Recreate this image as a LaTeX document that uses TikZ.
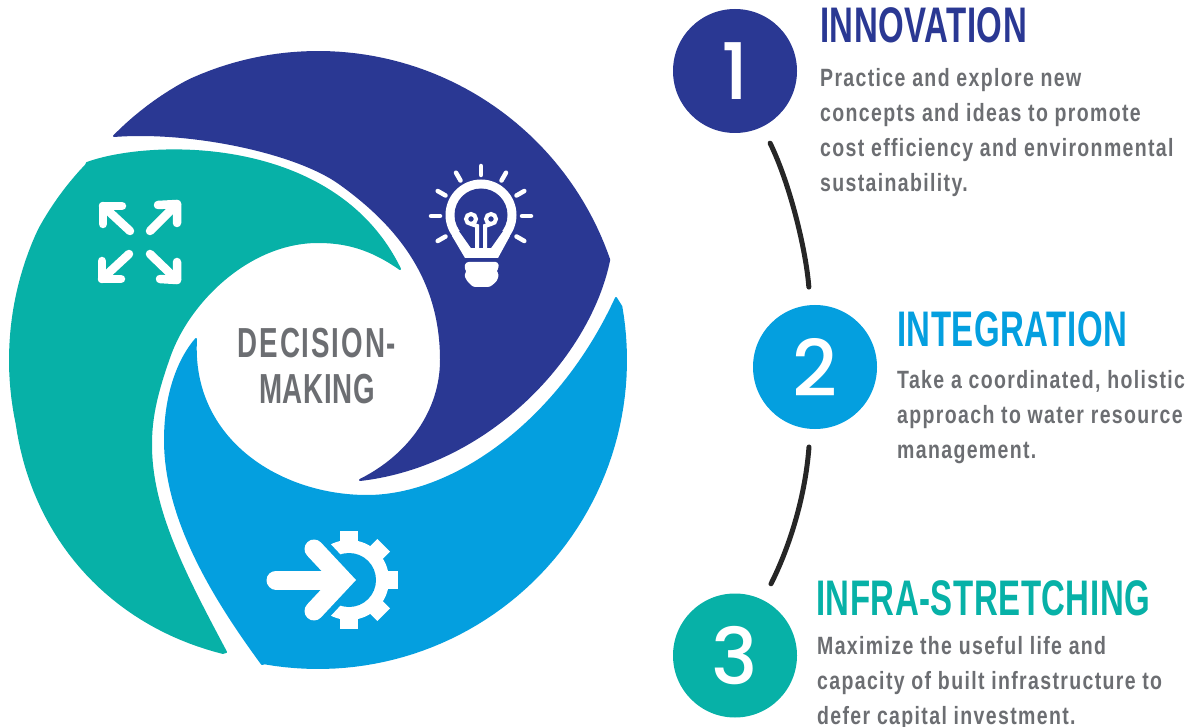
\documentclass[tikz,border=0pt]{standalone}
\usepackage{fontspec}
\setmainfont{Liberation Sans}
\newfontfamily\titlefont[FakeStretch=0.66,LetterSpace=1]{Liberation Sans Bold}
\newfontfamily\bodyfont[FakeStretch=0.78,LetterSpace=5.4]{Liberation Sans Bold}
\newfontfamily\numfont{Poppins Medium}
\definecolor{navy}{HTML}{2A3893}
\definecolor{tealc}{HTML}{07B1A7}
\definecolor{bluec}{HTML}{049FDF}
\definecolor{greyt}{HTML}{6C6E72}
\tikzset{
 seg/.style={line width=2pt,line join=round},
 numcircle/.style={circle,minimum size=124pt,inner sep=0pt,text=white,font=\numfont\fontsize{78}{78}\selectfont},
 linkline/.style={line width=5pt,line cap=round,color=black!85,shorten <=18pt,shorten >=18pt},
 titletext/.style={anchor=base west,inner sep=0pt,font=\titlefont\fontsize{50}{50}\selectfont},
 bodytext/.style={anchor=base west,inner sep=0pt,text=greyt,align=left,font=\bodyfont\fontsize{25}{35}\selectfont},
 centertext/.style={inner sep=0pt,text=greyt,anchor=base,font=\titlefont\fontsize{42}{42}\selectfont},
 arrowicon/.style={white,line width=8.5pt,line cap=round,line join=round},
 ray/.style={white,line width=4.5pt,line cap=round},
}
\begin{document}
\begin{tikzpicture}[x=1pt,y=-1pt]
\useasboundingbox (0,0) rectangle (1197,727);
% navy blade
\fill[navy,draw=navy,seg] plot[domain=132:19,samples=70] ({318+(308-5*max(0,(\x-115)/17))*cos(\x)},{360-(308-5*max(0,(\x-115)/17))*sin(\x)})
 .. controls (590,355) and (490,465) .. (360,480)
 .. controls (410,455) and (441,410) .. (441,360)
 .. controls (441,285) and (405,230) .. (339,183)
 .. controls (295,152) and (190,130) .. (114,136) -- cycle;
% teal blade
\fill[tealc,draw=tealc,seg] (87,163) .. controls (150,140) and (335,135) .. (400,269)
 .. controls (370,248) and (345,242) .. (318,242)
 .. controls (250,242) and (190,300) .. (170,355)
 .. controls (155,397) and (151,420) .. (151,445)
 .. controls (151,510) and (185,575) .. (226,652)
 -- plot[domain=252:140,samples=70] ({318+(308+7*max(0,cos(3*(\x-222)))*(\x>192)-5*max(0,(155-\x)/15))*cos(\x)},{360-(308+7*max(0,cos(3*(\x-222)))*(\x>192)-5*max(0,(155-\x)/15))*sin(\x)}) -- cycle;
% blue blade
\fill[bluec,draw=bluec,seg] (616,298) -- plot[domain=10:-100,samples=60] ({318+308*cos(\x)},{360-308*sin(\x)})
 -- (262,664) .. controls (215,600) and (165,520) .. (165,440)
 .. controls (165,395) and (178,360) .. (196,339)
 .. controls (190,440) and (280,496) .. (367,496)
 .. controls (455,496) and (560,420) .. (616,298) -- cycle;
% centre text
\node[centertext] (dm1) at (317,357) {\addfontfeature{LetterSpace=4.5}DECISION-};
\node[centertext] (dm2) at (317,403) {\addfontfeature{LetterSpace=1.5}MAKING};
% expand icon
\draw[arrowicon] (103,206)--(130,231);\draw[arrowicon] (122,206)--(103,206)--(103,224);
\draw[arrowicon] (177,204)--(150,231);\draw[arrowicon] (158,205)--(177,204)--(177,223);
\draw[arrowicon] (102,279)--(129,254);\draw[arrowicon] (102,261)--(102,279)--(121,279);
\draw[arrowicon] (177,280)--(150,254);\draw[arrowicon] (177,262)--(177,280)--(160,279);
% bulb icon
\foreach \a in {-30,0,30,60,90,120,150,180,210}
 \draw[ray] ({481+41*cos(\a)},{216-41*sin(\a)}) -- ({481+50*cos(\a)},{216-50*sin(\a)});
\fill[white] (481,215) circle[radius=35.5pt];
\fill[white] (452,236)--(465,258)--(498,258)--(510,236)--cycle;
\fill[navy] (481,215) circle[radius=26.5pt];
\fill[navy] (459,231)--(471,248)--(491,248)--(503,231)--cycle;
\draw[white,line width=4pt] (477,250)--(477,226)--(471,224) (485,250)--(485,226)--(491,224);
\draw[white,line width=4pt] (471,219) circle[radius=5pt] (491,219) circle[radius=5pt];
\fill[white,rounded corners=2.5pt] (466,262)--(498,262)--(499,268)--(496,271)--(499,274)--(497,281)--(490,287)--(473,287)--(467,281)--(464,275)--(467,271)--(464,268)--cycle;
% gear and arrow icon
\foreach \a in {0,45,...,315}
 \fill[white,rotate around={\a:(349,580)}] (340,531) rectangle (358,545);
\fill[white] (349,580) circle[radius=40pt];
\fill[bluec] (349,580) circle[radius=27pt];
\fill[bluec] (305,516.6)--(354.3,569.5)--(365,580)--(354.3,590.5)--(305,643.4)--(270,640)--(270,520)--cycle;
\draw[white,line width=19pt,line cap=round] (276,580)--(335,580);
\draw[white,line width=19pt,line cap=round,miter limit=4] (314,549)--(343,580)--(314,611);
% numbered circles
\node[numcircle,fill=navy] (n1) at (735,71) {1};
\node[numcircle,fill=bluec] (n2) at (815,367) {2};
\node[numcircle,fill=tealc] (n3) at (735,655.5) {3};
\draw[linkline] (n1) .. controls (790,184) and (806,250) .. (n2);
\draw[linkline] (n2) .. controls (805,500) and (788,550) .. (n3);
% text
\node[titletext,text=navy] (t1) at (820,43) {INNOVATION};
\node[bodytext] (b1) at (820,192) {Practice and explore new\\concepts and ideas to promote\\cost efficiency and environmental\\sustainability.};
\node[titletext,text=bluec] (t2) at (897,347) {INTEGRATION};
\node[bodytext] (b2) at (897,458) {Take a coordinated, holistic\\approach to water resource\\management.};
\node[titletext,text=tealc] (t3) at (816,615) {INFRA-STRETCHING};
\node[bodytext] (b3) at (817,724) {Maximize the useful life and\\capacity of built infrastructure to\\defer capital investment.};
\end{tikzpicture}
\end{document}
